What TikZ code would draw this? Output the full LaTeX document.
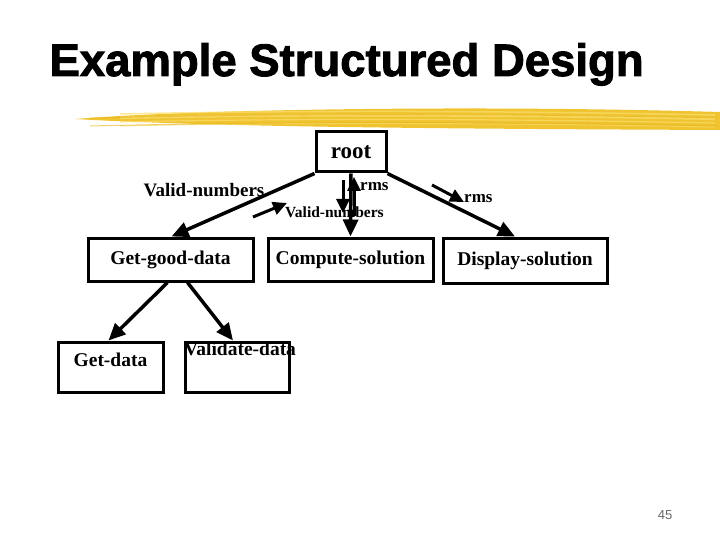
\documentclass[tikz,border=0pt]{standalone}
\usepackage{fontspec}
\setmainfont{Liberation Serif}
\newfontfamily\titlefont[BoldFeatures={FakeBold=2}]{Liberation Sans}
\newfontfamily\pagefont{Liberation Sans}
\usetikzlibrary{arrows.meta}
\definecolor{brush}{RGB}{240,196,48}
\definecolor{brushlight}{RGB}{250,224,110}
\definecolor{brushdark}{RGB}{228,178,30}

\begin{document}
\begin{tikzpicture}[x=1pt,y=-1pt,
    every node/.style={font=\fontsize{19.5}{22}\selectfont\bfseries},
    modbox/.style={draw,line width=3pt,inner sep=0pt},
    call/.style={line width=3.5pt,-{Triangle[length=17pt,width=15pt]}},
    flow/.style={line width=3pt,-{Triangle[length=14pt,width=13pt]}}]
    \useasboundingbox (0,0) rectangle (720,540);
    % title and brush stroke
    \node[anchor=base west,font=\titlefont\fontsize{45.5}{46}\selectfont\bfseries] (title) at (46,76) {Example Structured Design};
    \fill[brush] (75,119) .. controls (200,109) and (480,105) .. (720,112)
      -- (720,130) .. controls (520,129) and (230,128) .. (75,119) -- cycle;
    \foreach \y/\w in {114/1.5,118/2.2,122/1.2,126/1}
      \draw[brushlight,line width=\w pt,opacity=0.7] (120,\y) .. controls (300,\y-4) and (520,\y-3) .. (715,\y+1);
    \foreach \y/\w in {116/0.8,124/1}
      \draw[brushdark,line width=\w pt,opacity=0.6] (90,\y+2) .. controls (300,\y-3) and (520,\y-2) .. (718,\y+2);
    % modules
    \node[modbox,minimum width=70pt,minimum height=40pt,font=\fontsize{23}{24}\selectfont\bfseries] (root) at (351,152) {root};
    \node[modbox,minimum width=165pt,minimum height=43pt] (getgood) at (170.5,259.5) {Get-good-data};
    \node[modbox,minimum width=165pt,minimum height=43pt] (compute) at (350.5,259.5) {Compute-solution};
    \node[modbox,minimum width=164pt,minimum height=45pt] (display) at (525,260.5) {Display-solution};
    \node[modbox,minimum width=105pt,minimum height=50pt,text depth=14pt] (getdata) at (110.5,367) {Get-data};
    \node[modbox,minimum width=104pt,minimum height=50pt] (validate) at (237,367) {};
    \node (vdlabel) at (240,349) {Validate-data};
    % calls
    \draw[call] (root.south west) -- ([xshift=1pt]getgood.north);
    \draw[call] (root.south) -- (compute.north);
    \draw[call] (root.south east) -- ([xshift=-10pt]display.north);
    \draw[call] ([xshift=-3pt]getgood.south) -- ([xshift=-2pt]getdata.north);
    \draw[call] ([xshift=17pt]getgood.south) -- ([xshift=-4pt]validate.north);
    % data flows
    \coordinate (vn1) at (253,217);
    \coordinate (vn2) at (287,203);
    \coordinate (pd1) at (343,180);
    \coordinate (pd2) at (343,213);
    \coordinate (pu1) at (354,216);
    \coordinate (pu2) at (354,177);
    \coordinate (pr1) at (432,185);
    \coordinate (pr2) at (464,202);
    \node[font=\fontsize{19}{20}\selectfont\bfseries] (vnlab) at (204,190) {Valid-numbers};
    \node[anchor=west,font=\fontsize{15.5}{17}\selectfont\bfseries,inner sep=0pt] (vnsmall) at (285,212) {Valid-numbers};
    \node[anchor=west,font=\fontsize{17}{18}\selectfont\bfseries,inner sep=0pt] (rms1) at (360,187) {rms};
    \node[anchor=west,font=\fontsize{17}{18}\selectfont\bfseries,inner sep=0pt] (rms2) at (464,199) {rms};
    \draw[flow] (vn1) -- (vn2);
    \draw[flow] (pd1) -- (pd2);
    \draw[flow] (pu1) -- (pu2);
    \draw[flow] (pr1) -- (pr2);
    % page number
    \node[font=\pagefont\fontsize{13}{14}\selectfont,text=black!60] (pageno) at (665,515) {45};
\end{tikzpicture}
\end{document}
